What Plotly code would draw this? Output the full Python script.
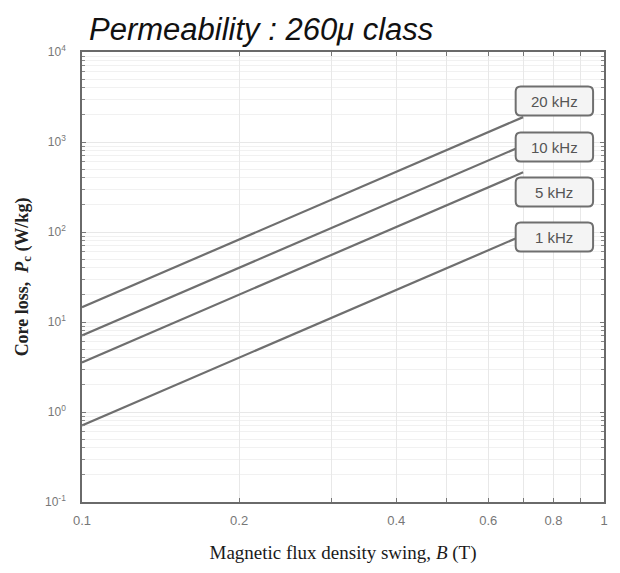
import plotly.graph_objects as go

# ---- data ----
B = [0.1, 0.7]
series_names = ["20 kHz", "10 kHz", "5 kHz", "1 kHz"]
loss_20k = [14.6, 1890]
loss_10k = [7.1, 916]
loss_5k = [3.56, 460]
loss_1k = [0.71, 92]
y_tickvals = [0.1, 1, 10, 100, 1000, 10000]
y_ticktext = ["10<sup>-1</sup>", "10<sup>0</sup>", "10<sup>1</sup>", "10<sup>2</sup>", "10<sup>3</sup>", "10<sup>4</sup>"]
x_tickvals = [0.1, 0.2, 0.3, 0.4, 0.5, 0.6, 0.7, 0.8, 0.9, 1]
x_ticktext = ["0.1", "0.2", "", "0.4", "", "0.6", "", "0.8", "", "1"]
y_minor = [m * 10 ** e for e in range(-1, 4) for m in range(2, 10)]

series = [loss_20k, loss_10k, loss_5k, loss_1k]

fig = go.Figure()
for name, vals in zip(series_names, series):
    fig.add_trace(go.Scatter(x=B, y=vals, mode="lines", name=name,
                             line=dict(color="#6f6f6f", width=2.2), showlegend=False))

L, R, T, Bm = 82, 12, 52, 71
W, H = 620, 573
pw, ph = W - L - R, H - T - Bm

def px(xp):
    return (xp - L) / pw

def py(yp):
    return (H - Bm - yp) / ph

def rounded_rect(x0, y0, x1, y1, r):
    X = lambda v: px(v)
    Y = lambda v: py(v)
    return (f"M {X(x0 + r)} {Y(y0)} L {X(x1 - r)} {Y(y0)} Q {X(x1)} {Y(y0)} {X(x1)} {Y(y0 + r)} "
            f"L {X(x1)} {Y(y1 - r)} Q {X(x1)} {Y(y1)} {X(x1 - r)} {Y(y1)} "
            f"L {X(x0 + r)} {Y(y1)} Q {X(x0)} {Y(y1)} {X(x0)} {Y(y1 - r)} "
            f"L {X(x0)} {Y(y0 + r)} Q {X(x0)} {Y(y0)} {X(x0 + r)} {Y(y0)} Z")

box_y = [101, 147, 192, 237]
bx0, bx1, bh = 519, 597, 29
for name, yc in zip(series_names, box_y):
    fig.add_shape(type="path", xref="paper", yref="paper",
                  path=rounded_rect(bx0, yc - bh / 2, bx1, yc + bh / 2, 5),
                  line=dict(color="#6f6f6f", width=2), fillcolor="#f4f4f4", layer="above")
    fig.add_annotation(x=px((bx0 + bx1) / 2), y=py(yc), xref="paper", yref="paper",
                       text=name, showarrow=False, xanchor="center", yanchor="middle",
                       font=dict(family="Liberation Sans, Arial", size=15, color="#555555"))

fig.add_annotation(x=px(87), y=py(30), xref="paper", yref="paper",
                   text="<i>Permeability : 260μ class</i>", showarrow=False,
                   xanchor="left", yanchor="middle",
                   font=dict(family="Liberation Sans, Arial", size=31, color="#111111"))

axis_common = dict(showline=True, linecolor="#6a6a6a", linewidth=1.6, mirror="ticks",
                   ticks="inside", ticklen=4, tickcolor="#777777",
                   showgrid=True, gridcolor="#e8e8e8", gridwidth=1, zeroline=False)

fig.update_xaxes(type="log", range=[-1, 0], tickmode="array", tickvals=x_tickvals,
                 ticktext=x_ticktext, tickfont=dict(family="Liberation Sans, Arial", size=13, color="#777777"),
                 ticklabelstandoff=6,
                 title=dict(text="Magnetic flux density swing, <i>B</i> (T)",
                            font=dict(family="Liberation Serif, Times New Roman", size=19, color="#1a1a1a"),
                            standoff=18),
                 **axis_common)
fig.update_yaxes(type="log", range=[-1, 4], tickmode="array", tickvals=y_tickvals,
                 ticktext=y_ticktext, tickfont=dict(family="Liberation Sans, Arial", size=12, color="#777777"),
                 ticklabelstandoff=12,
                 minor=dict(tickmode="array", tickvals=y_minor, ticks="inside", ticklen=3,
                            tickcolor="#888888", showgrid=True, gridcolor="#f1f1f1"),
                 title=dict(text="<b>Core loss,  <i>P</i><sub>c</sub> (W/kg)</b>",
                            font=dict(family="Liberation Serif, Times New Roman", size=18, color="#222222"),
                            standoff=12),
                 **axis_common)

fig.update_layout(width=W, height=H, margin=dict(l=L, r=R, t=T, b=Bm),
                  paper_bgcolor="white", plot_bgcolor="white")

fig.write_html("out.html")
